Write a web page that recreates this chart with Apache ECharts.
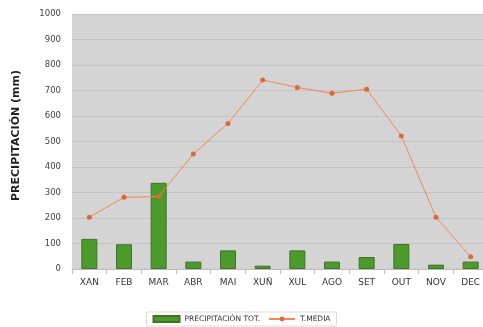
<!DOCTYPE html>
<html><head><meta charset="utf-8">
<script src="https://cdn.jsdelivr.net/npm/echarts@6/dist/echarts.min.js"></script>
<style>html,body{margin:0;padding:0;background:#fff}#c{width:483px;height:327px}</style>
</head><body><div id="c"></div>
<script>
const categories = ['XAN','FEB','MAR','ABR','MAI','XUÑ','XUL','AGO','SET','OUT','NOV','DEC'];
const precipitacion = [118, 97, 338, 29, 73, 13, 73, 29, 47, 98, 17, 29];
const tmedia = [203, 281, 284, 451, 571, 741, 712, 689, 705, 522, 203, 48];
const yTicks = {min: 0, max: 1000, interval: 100};

const chart = echarts.init(document.getElementById('c'), null, {renderer: 'canvas'});
const font = '"DejaVu Sans", Verdana, sans-serif';
chart.setOption({
  animation: false,
  backgroundColor: '#ffffff',
  grid: {left: 72, top: 14, width: 416, height: 255, show: true, backgroundColor: '#d4d4d4', borderWidth: 0, containLabel: false, outerBoundsMode: 'none'},
  legend: {
    bottom: 1, left: 'center', itemGap: 8,
    padding: [3, 6, 3, 6],
    borderColor: '#dddddd', borderWidth: 1,
    itemWidth: 26, itemHeight: 6,
    textStyle: {fontFamily: font, fontSize: 7.5, color: '#333'},
    data: [
      {name: 'PRECIPITACIÓN TOT.', icon: 'rect'},
      {name: 'T.MEDIA'}
    ]
  },
  xAxis: {
    type: 'category', data: categories,
    axisLine: {show: true, lineStyle: {color: '#bbbbbb'}},
    axisTick: {show: true, alignWithLabel: false, lineStyle: {color: '#bbbbbb'}},
    axisLabel: {fontFamily: font, fontSize: 9, color: '#333', margin: 9, interval: 0}
  },
  yAxis: {
    type: 'value', min: yTicks.min, max: yTicks.max, interval: yTicks.interval,
    name: 'PRECIPITACIÓN (mm)', nameLocation: 'middle', nameGap: 50, nameRotate: 90,
    nameTextStyle: {fontFamily: font, fontSize: 11, fontWeight: 'bold', color: '#222', padding: [0, 0, 0, 12]},
    axisLine: {show: false},
    axisTick: {show: false},
    axisLabel: {fontFamily: font, fontSize: 8.5, color: '#444', margin: 11, formatter: v => String(v)},
    splitLine: {show: true, lineStyle: {color: '#c4c4c4', width: 1}}
  },
  series: [
    {
      name: 'PRECIPITACIÓN TOT.', type: 'bar', data: precipitacion,
      barWidth: 16,
      itemStyle: {color: '#4d9a2c', borderColor: '#3e7325', borderWidth: 1}
    },
    {
      name: 'T.MEDIA', type: 'line', data: tmedia,
      symbol: 'circle', symbolSize: 5,
      lineStyle: {color: '#ee8a55', width: 1},
      itemStyle: {color: '#dd6a35'}
    }
  ]
});
</script></body></html>
